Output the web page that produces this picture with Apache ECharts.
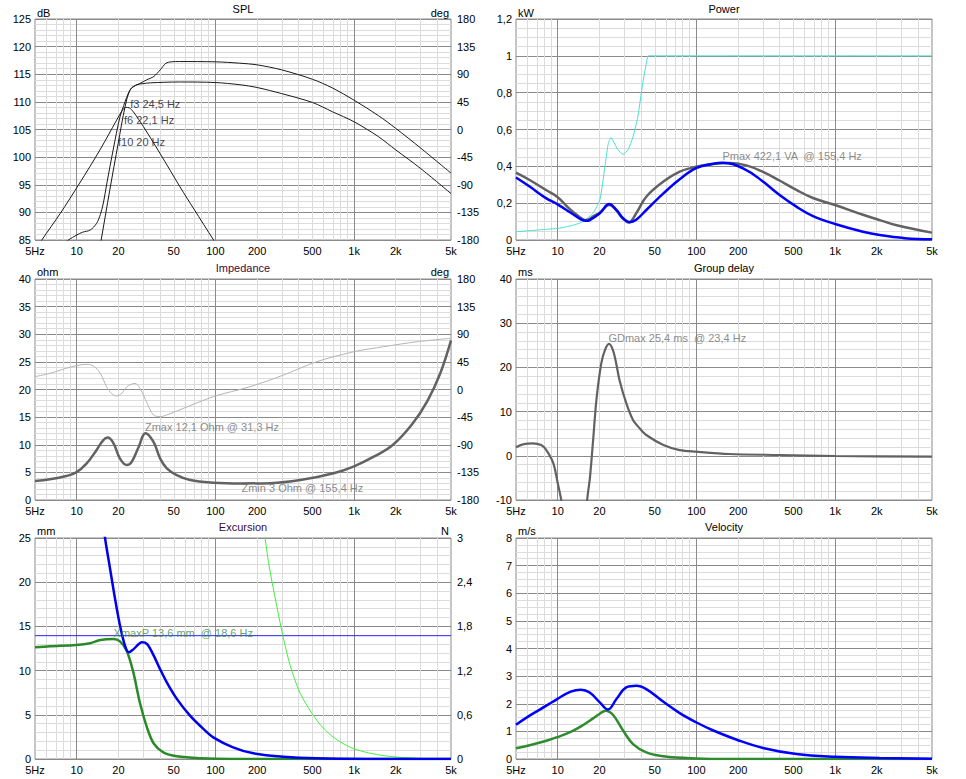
<!DOCTYPE html>
<html><head><meta charset="utf-8">
<script src="https://cdn.jsdelivr.net/npm/echarts@6/dist/echarts.min.js"></script>
<style>html,body{margin:0;padding:0;background:#fff}#c{width:966px;height:779px}</style>
</head><body><div id="c"></div>
<script>
// ---------- axis ticks ----------
const freqTicks = [5,10,20,50,100,200,500,1000,2000,5000];
const freqTickLabels = ['5Hz','10','20','50','100','200','500','1k','2k','5k'];
const gridMinorFreqs = [6,7,8,9,20,30,40,50,60,70,80,90,200,300,400,500,600,700,800,900,2000,3000,4000];
const gridMajorFreqs = [10,100,1000];

// ---------- SPL ----------
const splBandF  = [5, 5.6, 7.6, 10.5, 14.7, 19.4, 21, 22.5, 24, 25.6, 30.3, 39.8, 55.6, 70, 97, 105];
const splBandDb = [83, 85, 89.8, 95.3, 101.3, 106.7, 108.2, 109, 108.9, 108.2, 105.5, 100.7, 94.6, 90.6, 85, 83.7];
const splUpperF  = [8.2, 8.7, 10, 11, 12.5, 13.9, 14.8, 15.5, 16.5, 18.3, 20.5, 22.3, 23.6, 25, 28.4, 32, 36, 40, 44, 48, 55, 100, 150, 200, 300, 500, 700, 1000, 1500, 2000, 3000, 5000];
const splUpperDb = [84.5, 85, 85.9, 86.4, 86.8, 88, 89.6, 91.5, 95.3, 101.3, 107.3, 110, 111.6, 112.6, 113.3, 114.0, 114.6, 115.8, 117.0, 117.25, 117.3, 117.25, 117.0, 116.7, 115.8, 114.1, 112.5, 110.3, 107.5, 105.2, 101.7, 97.1];
const splLowerF  = [14.6, 15.0, 17.3, 19.9, 22.3, 24.2, 27, 30, 34, 55, 100, 150, 200, 300, 500, 700, 1000, 1500, 2000, 3000, 5000];
const splLowerDb = [83.5, 85, 94, 102.5, 109.1, 112.1, 113.1, 113.3, 113.45, 113.6, 113.5, 113.1, 112.6, 111.5, 109.9, 108.2, 106.4, 103.7, 101.3, 98.0, 93.4];

// ---------- Power ----------
const pwrCyanF  = [5, 8.3, 10, 12.9, 15.2, 17.9, 20.1, 21.9, 23.1, 24.2, 25, 27.2, 29.6, 32.1, 34.9, 37.8, 41, 44.3, 45, 5000];
const pwrCyanKw = [0.045, 0.058, 0.063, 0.08, 0.1, 0.145, 0.217, 0.4, 0.52, 0.557, 0.54, 0.49, 0.465, 0.49, 0.56, 0.67, 0.85, 0.99, 1.0, 1.0];
const pwrGrayF  = [5, 6.27, 8.28, 9.9, 12.4, 14.7, 15.7, 16.5, 18, 20.1, 23.5, 26.5, 29.6, 32.4, 36.8, 43.5, 57.8, 75.8, 99.4, 130, 172, 229, 302, 398, 526, 693, 1000, 1590, 2097, 2782, 5000];
const pwrGrayKw = [0.366, 0.326, 0.27, 0.235, 0.163, 0.12, 0.108, 0.11, 0.128, 0.148, 0.19, 0.16, 0.115, 0.095, 0.145, 0.235, 0.317, 0.371, 0.398, 0.413, 0.418, 0.405, 0.37, 0.323, 0.272, 0.228, 0.19, 0.137, 0.108, 0.08, 0.04];
const pwrBlueF  = [5, 6.27, 8.28, 9.9, 12.4, 14.7, 16, 17, 20.1, 23.5, 26.5, 29.6, 33, 36.8, 43.5, 57.8, 75.8, 99.4, 130, 155, 229, 302, 398, 526, 693, 1000, 1590, 2097, 3200, 5000];
const pwrBlueKw = [0.339, 0.29, 0.226, 0.195, 0.148, 0.112, 0.104, 0.108, 0.145, 0.195, 0.163, 0.118, 0.097, 0.11, 0.163, 0.253, 0.33, 0.39, 0.413, 0.42, 0.38, 0.317, 0.244, 0.181, 0.13, 0.087, 0.045, 0.027, 0.01, 0.004];

// ---------- Impedance ----------
const impF   = [5, 6.4, 8.4, 9.9, 11.8, 13.9, 15.5, 16.7, 18.3, 20.5, 23, 24.9, 28, 31.3, 35.7, 39.9, 44.6, 52.6, 65.7, 96.5, 155, 250, 410, 711, 1000, 1387, 1909, 2637, 3390, 4178, 5000];
const impOhm = [3.44, 3.74, 4.34, 5.0, 6.64, 9.05, 10.8, 11.3, 10.4, 7.5, 6.33, 6.9, 9.65, 12.1, 10.56, 7.54, 5.73, 4.52, 3.62, 3.14, 3.0, 3.05, 3.6, 4.83, 6.1, 7.84, 10.0, 13.8, 18.0, 22.9, 28.9];
const phaseF   = [5, 6.4, 8.4, 9.9, 11.8, 13.2, 14.8, 16.4, 17.9, 19.4, 21.2, 23, 26.3, 28.6, 32.2, 35.7, 39.9, 44.6, 96.5, 178, 310, 537, 1000, 1639, 2868, 5000];
const phaseDeg = [20.9, 26.3, 34.5, 38.8, 41, 38.2, 26.3, 4.6, -7, -10.6, -6, 4.6, 10, 1.9, -22.5, -41.5, -44.2, -41.5, -11.7, 4.6, 23.6, 45.3, 61.6, 69.8, 77.9, 83.4];

// ---------- Group delay ----------
const gdF  = [5, 5.6, 6.6, 7.6, 8.28, 9.3, 10.0, 10.6, 11.2, 13, 15.8, 16.3, 17.1, 18.0, 19.0, 20.6, 21.9, 23.4, 25.0, 26.4, 27.9, 31.2, 34.9, 39.0, 43.5, 57.8, 75.8, 99.4, 172, 398, 1000, 5000];
const gdMs = [1.92, 2.6, 2.82, 2.44, 1.3, -1.7, -6.2, -10, -16, null, -16, -10, -4.7, 3.6, 12.6, 20.9, 23.9, 25.3, 23.9, 20.9, 17.1, 11.9, 8.1, 6.2, 4.7, 2.45, 1.3, 0.94, 0.41, 0.18, -0.05, -0.2];

// ---------- Excursion ----------
const excBlueF  = [15, 16, 17.4, 18.9, 20.5, 22.3, 23.8, 25.6, 29.5, 32.2, 35.9, 39.8, 44.6, 52.7, 65.6, 81.9, 96.5, 134, 188, 310, 537, 1240, 5000];
const excBlueMm = [28.5, 25, 21.5, 18.1, 15.1, 12.8, 12.07, 12.4, 13.2, 13.0, 11.7, 10.2, 8.67, 6.8, 4.9, 3.4, 2.45, 1.32, 0.64, 0.26, 0.08, 0.01, 0];
const excGreenF  = [5, 6.4, 9.9, 12.5, 14.8, 18.4, 20.5, 23, 25.6, 28.6, 32.2, 35.9, 42.1, 52.7, 77.2, 134, 5000];
const excGreenMm = [12.63, 12.75, 12.9, 13.1, 13.46, 13.57, 13.3, 12.2, 9.8, 6.3, 3.5, 1.75, 0.75, 0.3, 0.08, 0, 0];
const excLimeF  = [225, 228, 246, 277, 310, 346, 410, 537, 704, 1000, 1637, 2866, 5000];
const excLimeMm = [26, 25, 21.5, 17.3, 13.6, 10.6, 7.4, 4.4, 2.5, 1.15, 0.38, 0.08, 0];
const xmaxF  = [5, 5000];
const xmaxMm = [13.95, 13.95];

// ---------- Velocity ----------
const velBlueF = [5, 6.27, 8.28, 9.9, 12.4, 14.7, 17, 20.1, 23, 26.5, 31.2, 36.8, 43.5, 57.8, 75.8, 99.4, 130, 200, 302, 526, 1000, 2097, 5000];
const velBlue  = [1.24, 1.57, 1.93, 2.17, 2.44, 2.51, 2.41, 2.05, 1.79, 2.17, 2.59, 2.65, 2.53, 2.07, 1.66, 1.33, 1.05, 0.68, 0.4, 0.18, 0.08, 0.035, 0.01];
const velGreenF = [5, 6.27, 8.28, 9.9, 12.4, 14.7, 18, 20, 22.2, 25, 29.6, 34.9, 43.5, 57.8, 99.4, 172, 5000];
const velGreen  = [0.39, 0.5, 0.66, 0.79, 0.98, 1.18, 1.47, 1.63, 1.75, 1.6, 1.03, 0.54, 0.24, 0.1, 0.02, 0, 0];

// ---------- annotations (anchor frequency / value) ----------
const splNotes = [
  {f:24.5, v:110.6, text:'f3 24,5 Hz', va:'top'},
  {f:22.1, v:107.6, text:'f6 22,1 Hz', va:'top'},
  {f:20,   v:103.6, text:'f10 20 Hz',  va:'top'}
];
const pwrNotes = [{f:155.4, v:0.422, text:'Pmax 422,1 VA  @ 155,4 Hz', va:'bottom'}];
const impNotes = [
  {f:31.3,  v:12.1, text:'Zmax 12,1 Ohm @ 31,3 Hz', va:'bottom'},
  {f:155.4, v:3,    text:'Zmin 3 Ohm @ 155,4 Hz',   va:'top'}
];
const gdNotes  = [{f:23.4, v:25.4, text:'GDmax 25,4 ms  @ 23,4 Hz', va:'bottom'}];
const excNotes = [{f:18.6, v:13.6, text:'XmaxP 13,6 mm  @ 18,6 Hz', va:'bottom'}];

// ---------- helpers ----------
const FONT = '"Liberation Sans", Arial, sans-serif';
const L = Math.log10;
const pts = (f, v) => f.map((x, i) => [L(x), v[i] === null ? '-' : v[i]]);
const fmtX = v => { for (let i = 0; i < freqTicks.length; i++) if (Math.abs(L(freqTicks[i]) - v) < 1e-6) return freqTickLabels[i]; return ''; };
const fmtY = v => String(Math.round(v * 100) / 100).replace('.', ',');

const gridPos = [[35,19],[516,19],[35,279],[516,279],[35,538],[516,538]];
const grids = gridPos.map(p => ({left:p[0], top:p[1], width:416, height:221, show:true,
  borderColor:'#8a8a8a', borderWidth:1, backgroundColor:'#fff', containLabel:false, outerBoundsMode:'none'}));

const xAxes = gridPos.map((p, i) => ({
  type:'value', gridIndex:i, min:L(5), max:L(5000),
  axisLine:{show:false}, axisTick:{show:false}, splitLine:{show:false},
  axisLabel:{customValues: freqTicks.map(L), formatter: fmtX, color:'#000', fontSize:11, lineHeight:11, fontFamily:FONT, margin:5}
}));

function yLeft(gi, min, max, interval, minor) {
  return {type:'value', gridIndex:gi, position:'left', min, max, interval,
    axisLine:{show:false}, axisTick:{show:false},
    splitLine:{show:true, lineStyle:{color:'#8a8a8a', width:1}},
    minorTick:{show:false, splitNumber:minor},
    minorSplitLine:{show:true, lineStyle:{color:'#dcdcdc', width:1}},
    axisLabel:{formatter: fmtY, color:'#000', fontSize:11, lineHeight:11, fontFamily:FONT, margin:4}};
}
function yRight(gi, min, max, interval) {
  return {type:'value', gridIndex:gi, position:'right', min, max, interval,
    axisLine:{show:false}, axisTick:{show:false}, splitLine:{show:false},
    axisLabel:{formatter: fmtY, color:'#000', fontSize:11, lineHeight:11, fontFamily:FONT, margin:6}};
}
const yAxes = [
  yLeft(0, 85, 125, 5, 5), yRight(0, -180, 180, 45),
  yLeft(1, 0, 1.2, 0.2, 4),
  yLeft(2, 0, 40, 5, 5), yRight(2, -180, 180, 45),
  yLeft(3, -10, 40, 10, 5),
  yLeft(4, 0, 25, 5, 5), yRight(4, 0, 3, 0.6),
  yLeft(5, 0, 8, 1, 4)
];

function vgrid() {
  return {silent:true, symbol:['none','none'], z:1, animation:false, label:{show:false}, emphasis:{disabled:true},
    data: gridMinorFreqs.map(f => ({xAxis:L(f), lineStyle:{color:'#dcdcdc', width:1, type:'solid'}}))
      .concat(gridMajorFreqs.map(f => ({xAxis:L(f), lineStyle:{color:'#8a8a8a', width:1, type:'solid'}})))};
}
function line(xi, yi, f, v, color, width, opts) {
  return Object.assign({type:'line', xAxisIndex:xi, yAxisIndex:yi, data:pts(f, v), symbol:'none', showSymbol:false,
    smooth:0.3, connectNulls:false, clip:true, silent:true, z:3, animation:false,
    lineStyle:{color, width}, emphasis:{disabled:true}}, opts || {});
}
function notes(xi, yi, list, color) {
  return {type:'scatter', xAxisIndex:xi, yAxisIndex:yi, symbolSize:1, silent:true, z:5, animation:false,
    itemStyle:{color:'rgba(0,0,0,0)'},
    data: list.map(n => ({value:[L(n.f), n.v], label:{show:true, formatter:n.text, position:[0,0],
      align:'left', verticalAlign:n.va, color, fontSize:11, fontFamily:FONT}}))};
}

const series = [
  // SPL
  line(0, 0, splBandF, splBandDb, '#1a1a1a', 1, {markLine: vgrid()}),
  line(0, 0, splUpperF, splUpperDb, '#1a1a1a', 1),
  line(0, 0, splLowerF, splLowerDb, '#1a1a1a', 1),
  notes(0, 0, splNotes, '#14102a'),
  // Power
  line(1, 2, pwrCyanF, pwrCyanKw, '#48e0d0', 1, {markLine: vgrid(), smooth:0.2}),
  line(1, 2, pwrGrayF, pwrGrayKw, '#626262', 2.5, {smooth:0.4}),
  line(1, 2, pwrBlueF, pwrBlueKw, '#0000ff', 2.5, {smooth:0.4}),
  notes(1, 2, pwrNotes, '#6e6e6e'),
  // Impedance
  line(2, 4, phaseF, phaseDeg, '#b4b4b4', 1, {markLine: vgrid()}),
  line(2, 3, impF, impOhm, '#626262', 2.5, {smooth:0.4}),
  notes(2, 3, impNotes, '#6e6e6e'),
  // Group delay
  line(3, 5, gdF, gdMs, '#626262', 2.2, {markLine: vgrid()}),
  notes(3, 5, gdNotes, '#6e6e6e'),
  // Excursion
  line(4, 6, xmaxF, xmaxMm, '#2828ff', 1, {markLine: vgrid(), smooth:false}),
  line(4, 6, excLimeF, excLimeMm, '#40f040', 1),
  line(4, 6, excGreenF, excGreenMm, '#2a8a2a', 2.5),
  line(4, 6, excBlueF, excBlueMm, '#0000ee', 2.5),
  notes(4, 6, excNotes, '#3a8c3a'),
  // Velocity
  line(5, 8, velGreenF, velGreen, '#2e8b2e', 2.5, {markLine: vgrid(), smooth:0.4}),
  line(5, 8, velBlueF, velBlue, '#0000ff', 2.5, {smooth:0.4})
];

const titleDefs = [
  ['SPL', 243, 3, 'center', '#000'], ['dB', 37, 7, 'left', '#000'], ['deg', 449, 7, 'right', '#000'],
  ['Power', 724, 3, 'center', '#000'], ['kW', 518, 7, 'left', '#000'],
  ['Impedance', 243, 262, 'center', '#3a0a3a'], ['ohm', 37, 266, 'left', '#000'], ['deg', 449, 266, 'right', '#000'],
  ['Group delay', 724, 262, 'center', '#000'], ['ms', 518, 266, 'left', '#000'],
  ['Excursion', 243, 521, 'center', '#3a0a3a'], ['mm', 37, 525, 'left', '#000'], ['N', 449, 525, 'right', '#000'],
  ['Velocity', 724, 521, 'center', '#000'], ['m/s', 518, 525, 'left', '#000']
];
const titles = titleDefs.map(t => ({text:t[0], left:t[1], top:t[2], textAlign:t[3], padding:0,
  textStyle:{fontSize:11, fontWeight:'normal', color:t[4], fontFamily:FONT}}));

const chart = echarts.init(document.getElementById('c'), null, {renderer:'svg'});
chart.setOption({
  animation:false,
  backgroundColor:'#fff',
  textStyle:{fontFamily:FONT, fontSize:11},
  title: titles,
  grid: grids,
  xAxis: xAxes,
  yAxis: yAxes,
  series: series
});
</script>
</body></html>
